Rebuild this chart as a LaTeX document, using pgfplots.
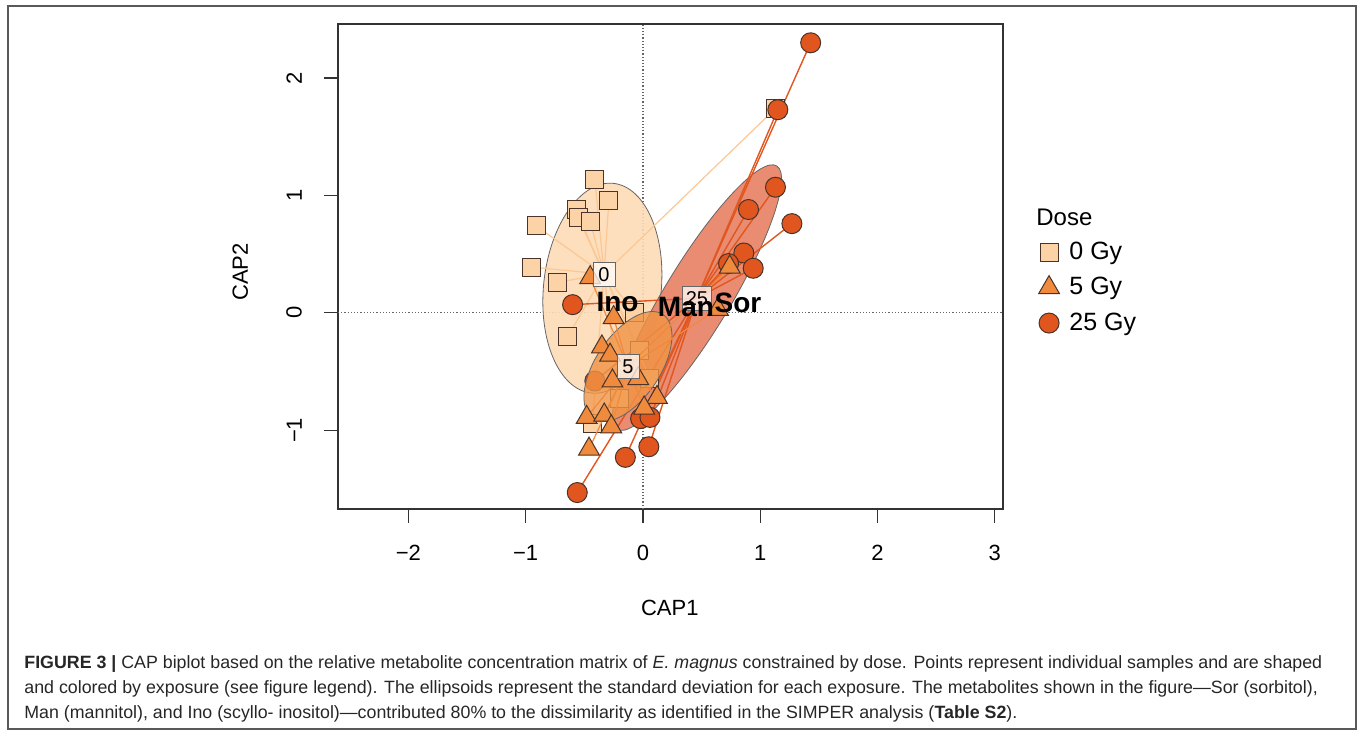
\documentclass[border=0pt]{standalone}
\usepackage{pgfplots}
\pgfplotsset{compat=1.18}
\usepackage{pgfplotstable}
\usepackage{fontspec}
\setmainfont{Liberation Sans}
\newfontfamily\capfont{Liberation Sans}
\definecolor{sqfill}{HTML}{FCD3A6}
\definecolor{trifill}{HTML}{F08A3C}
\definecolor{cirfill}{HTML}{E1561F}
\definecolor{markedge}{HTML}{4A3328}
\definecolor{ellzero}{HTML}{FDDAB6}
\definecolor{ellfive}{HTML}{F09445}
\definecolor{elltwf}{HTML}{E8866A}
\definecolor{spzero}{HTML}{FBC894}
\definecolor{spfive}{HTML}{F08A3C}
\definecolor{sptwf}{HTML}{E1561F}

% 0 Gy samples
\pgfplotstableread{
x y
-0.41 1.14
-0.29 0.96
-0.57 0.88
-0.55 0.81
-0.45 0.78
-0.91 0.74
-0.95 0.39
-0.73 0.26
-0.64 -0.20
1.13 1.74
-0.07 0.00
-0.03 -0.32
0.06 -0.56
-0.20 -0.73
-0.43 -0.94
}\sqtab
% 5 Gy samples
\pgfplotstableread{
x y
-0.45 0.30
-0.25 -0.04
-0.35 -0.29
-0.28 -0.36
-0.26 -0.58
-0.04 -0.56
0.12 -0.72
0.01 -0.81
-0.48 -0.89
-0.33 -0.87
-0.27 -0.97
-0.46 -1.16
0.74 0.39
0.64 0.03
}\tritab
% 25 Gy samples
\pgfplotstableread{
x y
1.43 2.30
1.15 1.73
1.13 1.07
0.90 0.88
1.27 0.76
0.86 0.51
0.73 0.42
0.94 0.38
-0.60 0.07
-0.41 -0.58
-0.02 -0.90
0.06 -0.89
0.05 -1.14
-0.15 -1.23
-0.56 -1.53
}\cirtab

\begin{document}
\begin{tikzpicture}[x=1pt,y=1pt]
\useasboundingbox (0,0) rectangle (680,368);
\draw[black!65, line width=0.7pt] (4,3.5) rectangle (678,365);
\begin{axis}[
  at={(169pt,113.5pt)}, anchor=south west,
  scale only axis, width=332.5pt, height=242.5pt,
  xmin=-2.60, xmax=3.07, ymin=-1.67, ymax=2.46,
  clip marker paths=true,
  axis line style={line width=0.6pt, black!80},
  xtick={-2,-1,0,1,2,3}, xticklabels={−2,−1,0,1,2,3},
  ytick={-1,0,1,2}, yticklabels={−1,0,1,2},
  tick align=outside, xtick pos=left, ytick pos=left,
  major tick length=7pt,
  tick style={black!80, line width=0.6pt},
  tick label style={font=\fontsize{11}{13}\selectfont},
  xticklabel style={yshift=-7.5pt},
  yticklabel style={xshift=-7.5pt, rotate=90, anchor=south},
  xlabel={CAP1}, ylabel={CAP2},
  label style={font=\fontsize{11}{13}\selectfont},
  xlabel style={at={(axis description cs:0.499,-0.204)}, anchor=center},
  ylabel style={at={(axis description cs:-0.147,0.489)}, anchor=center},
  legend style={draw=none, fill=none, at={(axis description cs:1.044,0.568)}, anchor=north west,
    font=\fontsize{12.5}{14}\selectfont, row sep=3.5pt, column sep=3pt},
  legend cell align=left,
]
\addplot[forget plot, densely dotted, black!60, line width=0.6pt] coordinates {(0,-1.67) (0,2.46)};
\addplot[forget plot, densely dotted, black!60, line width=0.6pt] coordinates {(-2.60,0) (3.07,0)};

% 0 Gy ellipse
\draw[draw=black!60, line width=0.4pt, fill=ellzero, fill opacity=0.9,
  rotate around={84:(axis cs:-0.346,0.21)}] (axis cs:-0.346,0.21) ellipse [x radius=0.899, y radius=0.501];
% 25 Gy ellipse
\draw[draw=black!60, line width=0.4pt, fill=elltwf, fill opacity=0.95,
  rotate around={58.8:(axis cs:0.46,0.13)}] (axis cs:0.46,0.13) ellipse [x radius=1.313, y radius=0.281];

% spiders 0 and 25
\addplot[forget plot, draw=spzero, line width=0.6pt, quiver={u=\thisrow{x}+0.332, v=\thisrow{y}-0.33}]
  table[x expr=-0.332, y expr=0.33] {\sqtab};
\addplot[forget plot, draw=sptwf, line width=0.7pt, quiver={u=\thisrow{x}-0.46, v=\thisrow{y}-0.125}]
  table[x expr=0.46, y expr=0.125] {\cirtab};

% points 0 and 25
\addplot[only marks, mark=square*, mark size=4.5pt, mark options={fill=sqfill, draw=markedge, line width=0.5pt}] table {\sqtab};
\addlegendentry{0 Gy}
\addplot[forget plot, only marks, mark=*, mark size=5pt, mark options={fill=cirfill, draw=markedge, line width=0.5pt}] table {\cirtab};

% 5 Gy ellipse
\draw[draw=black!60, line width=0.4pt, fill=ellfive, fill opacity=0.8,
  rotate around={56:(axis cs:-0.128,-0.457)}] (axis cs:-0.128,-0.457) ellipse [x radius=0.535, y radius=0.273];

\addplot[forget plot, draw=spfive, line width=0.6pt, quiver={u=\thisrow{x}+0.128, v=\thisrow{y}+0.457}]
  table[x expr=-0.128, y expr=-0.457] {\tritab};
\addplot[only marks, mark=triangle*, mark size=6pt, mark options={fill=trifill, draw=markedge, line width=0.5pt}] table {\tritab};
\addlegendentry{5 Gy}
\addplot[only marks, mark=*, mark size=5pt, mark options={fill=cirfill, draw=markedge, line width=0.5pt}] coordinates {(-10,-10)};
\addlegendentry{25 Gy}

% centroid labels
\node[draw=black!60, fill=white, fill opacity=0.75, text opacity=1, inner sep=1.5pt, minimum width=11pt, minimum height=12pt, font=\fontsize{10}{12}\selectfont] at (axis cs:-0.332,0.33) {0};
\node[draw=black!60, fill=white, fill opacity=0.75, text opacity=1, inner sep=1.5pt, minimum width=11pt, minimum height=12pt, font=\fontsize{10}{12}\selectfont] at (axis cs:-0.128,-0.457) {5};
\node[draw=black!60, fill=white, fill opacity=0.75, text opacity=1, inner sep=1.5pt, minimum width=11pt, minimum height=12pt, font=\fontsize{10}{12}\selectfont] at (axis cs:0.46,0.125) {25};

% species labels
\node[font=\fontsize{14}{16}\bfseries\selectfont] at (axis cs:-0.217,0.09) {Ino};
\node[font=\fontsize{14}{16}\bfseries\selectfont] at (axis cs:0.367,0.05) {Man};
\node[font=\fontsize{14}{16}\bfseries\selectfont] at (axis cs:0.81,0.087) {Sor};
\end{axis}

\node[anchor=west, font=\fontsize{12}{14}\selectfont, inner sep=0pt] at (518,259.5) {Dose};

\node[anchor=base west, font=\capfont\fontsize{8.9}{10}\selectfont, text=black!85, inner sep=0pt] at (12,34)
  {\textbf{FIGURE 3 |} CAP biplot based on the relative metabolite concentration matrix of \textit{E. magnus} constrained by dose. Points represent individual samples and are shaped};
\node[anchor=base west, font=\capfont\fontsize{8.9}{10}\selectfont, text=black!85, inner sep=0pt] at (12,21.5)
  {and colored by exposure (see figure legend). The ellipsoids represent the standard deviation for each exposure. The metabolites shown in the figure—Sor (sorbitol),};
\node[anchor=base west, font=\capfont\fontsize{8.9}{10}\selectfont, text=black!85, inner sep=0pt] at (12,9)
  {Man (mannitol), and Ino (scyllo- inositol)—contributed 80\% to the dissimilarity as identified in the SIMPER analysis (\textbf{Table S2}).};
\end{tikzpicture}
\end{document}
